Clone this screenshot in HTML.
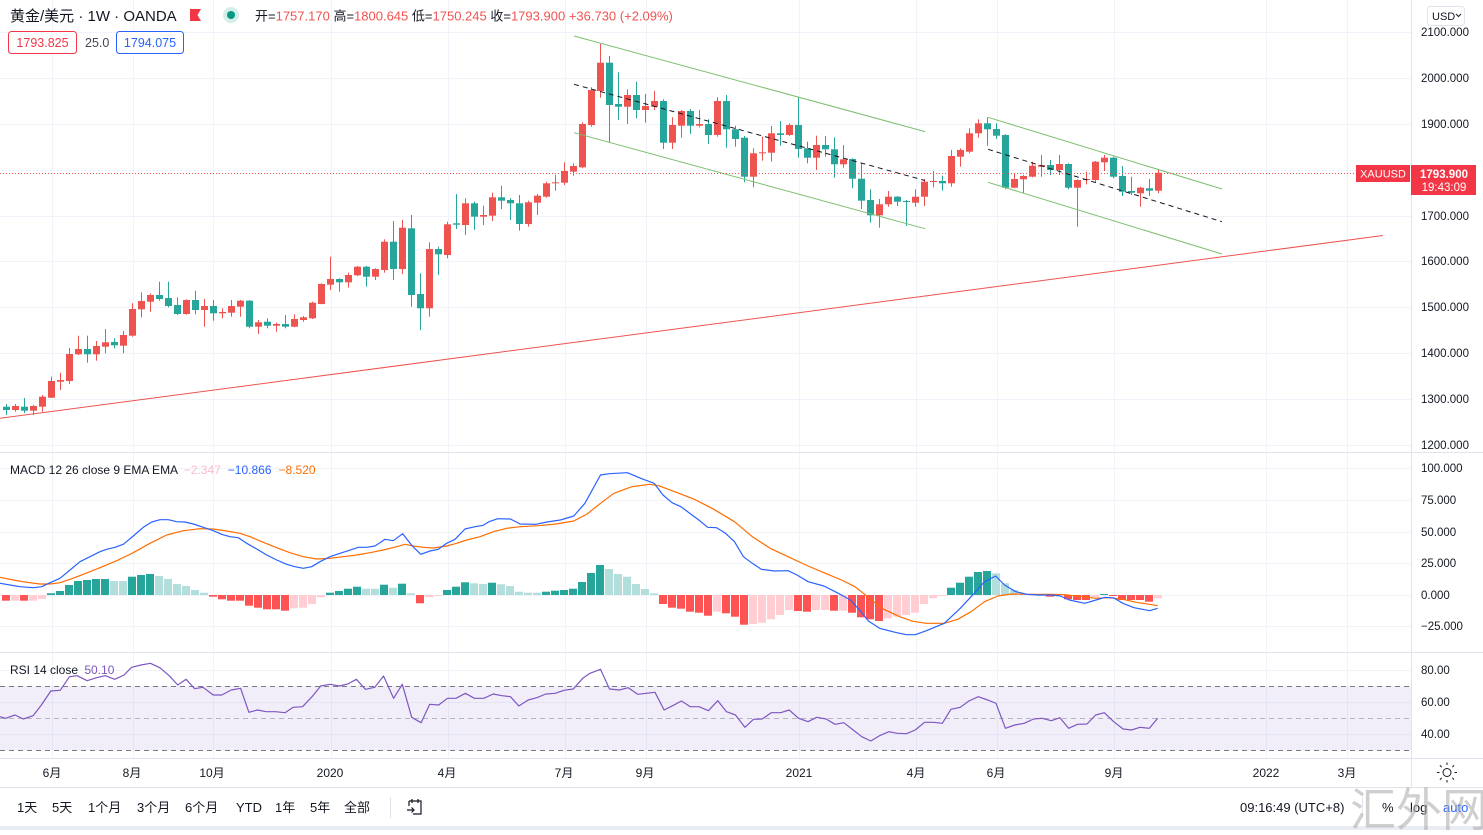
<!DOCTYPE html>
<html><head><meta charset="utf-8">
<style>
html,body{margin:0;padding:0;background:#fff;}
body{width:1483px;height:830px;overflow:hidden;}
svg text{font-family:"Liberation Sans","Noto Sans CJK SC",sans-serif;}
</style></head><body>
<svg id="c" width="1483" height="830" xmlns="http://www.w3.org/2000/svg">
<rect x="0" y="0" width="1483" height="830" fill="#ffffff"/>
<g id="grid" stroke="#f0f3fa" stroke-width="1"></g>
<rect x="0" y="686" width="1411" height="64" fill="#7e57c2" fill-opacity="0.1"/>
<g id="rsilines" fill="none" stroke-width="1"></g>
<g id="hist"></g>
<g id="lines"></g>
<g id="candles"></g>
<g id="draw" fill="none"></g>
<!-- separators -->
<g stroke="#e0e3eb" stroke-width="1">
<line x1="0" y1="452.5" x2="1483" y2="452.5"/>
<line x1="0" y1="652.5" x2="1483" y2="652.5"/>
<line x1="0" y1="758.5" x2="1483" y2="758.5"/>
<line x1="0" y1="787.5" x2="1483" y2="787.5"/>
<line x1="1411.5" y1="0" x2="1411.5" y2="787"/>
<line x1="390.5" y1="797" x2="390.5" y2="818"/>
<line x1="1362.5" y1="797" x2="1362.5" y2="818"/>
</g>
<rect x="0" y="826" width="1483" height="4" fill="#e9ecf2"/>

<!-- header legend -->
<text x="10" y="21" font-size="15" fill="#131722">黄金/美元 · 1W · OANDA</text>
<path d="M190 9 H201 L197.5 15 L201 21 H190 Z" fill="#f23645"/>
<circle cx="231" cy="15" r="8" fill="#d4efeb"/>
<circle cx="231" cy="15" r="4" fill="#089981"/>
<text x="255" y="20.5" font-size="13" fill="#131722">开=<tspan fill="#ef5350">1757.170</tspan> 高=<tspan fill="#ef5350">1800.645</tspan> 低=<tspan fill="#ef5350">1750.245</tspan> 收=<tspan fill="#ef5350">1793.900</tspan> <tspan fill="#ef5350">+36.730 (+2.09%)</tspan></text>
<rect x="8.5" y="31.5" width="68" height="22" rx="3" fill="#fff" stroke="#f23645"/>
<text x="42.5" y="47" font-size="12.5" fill="#f23645" text-anchor="middle">1793.825</text>
<text x="85" y="47" font-size="12.5" fill="#434651">25.0</text>
<rect x="116.5" y="31.5" width="67" height="22" rx="3" fill="#fff" stroke="#2962ff"/>
<text x="150" y="47" font-size="12.5" fill="#2962ff" text-anchor="middle">1794.075</text>

<!-- MACD legend -->
<text x="10" y="474" font-size="12" fill="#131722">MACD 12 26 close 9 EMA EMA <tspan dx="3" fill="#f8bbd0">−2.347</tspan><tspan dx="7" fill="#2962ff">−10.866</tspan><tspan dx="7" fill="#ff6d00">−8.520</tspan></text>
<!-- RSI legend -->
<text x="10" y="674" font-size="12" fill="#131722">RSI 14 close <tspan dx="3" fill="#7e57c2">50.10</tspan></text>

<!-- right axis labels -->
<g font-size="11.5" fill="#131722">
<text x="1421" y="36">2100.000</text>
<text x="1421" y="82">2000.000</text>
<text x="1421" y="128">1900.000</text>
<text x="1421" y="220">1700.000</text>
<text x="1421" y="265">1600.000</text>
<text x="1421" y="311">1500.000</text>
<text x="1421" y="357">1400.000</text>
<text x="1421" y="403">1300.000</text>
<text x="1421" y="449">1200.000</text>
<text x="1421" y="472">100.000</text>
<text x="1421" y="504">75.000</text>
<text x="1421" y="536">50.000</text>
<text x="1421" y="567">25.000</text>
<text x="1421" y="599">0.000</text>
<text x="1421" y="630">−25.000</text>
<text x="1421" y="674">80.00</text>
<text x="1421" y="706">60.00</text>
<text x="1421" y="738">40.00</text>
</g>
<rect x="1427.5" y="6.5" width="37" height="19" rx="3" fill="#fff" stroke="#e0e3eb"/>
<text x="1432" y="20" font-size="11" fill="#131722">USD</text>
<path d="M1456 14 L1458.5 16.5 L1461 14" stroke="#131722" fill="none" stroke-width="1"/>

<!-- price labels -->
<line x1="0" y1="173.5" x2="1356" y2="173.5" stroke="#ef5350" stroke-width="1" stroke-dasharray="1,2"/>
<rect x="1356" y="165" width="54" height="17" fill="#f23645"/>
<text x="1383" y="177.5" font-size="11" fill="#fff" text-anchor="middle">XAUUSD</text>
<rect x="1411" y="165" width="65" height="30" fill="#f23645"/>
<text x="1444" y="178" font-size="11.5" font-weight="bold" fill="#fff" text-anchor="middle">1793.900</text>
<text x="1444" y="191" font-size="11.5" fill="#fff" text-anchor="middle">19:43:09</text>

<!-- time axis -->
<g font-size="12" fill="#131722" text-anchor="middle">
<text x="52" y="777">6月</text>
<text x="132" y="777">8月</text>
<text x="212" y="777">10月</text>
<text x="330" y="777">2020</text>
<text x="447" y="777">4月</text>
<text x="564" y="777">7月</text>
<text x="645" y="777">9月</text>
<text x="799" y="777">2021</text>
<text x="916" y="777">4月</text>
<text x="996" y="777">6月</text>
<text x="1114" y="777">9月</text>
<text x="1266" y="777">2022</text>
<text x="1347" y="777">3月</text>
</g>
<g stroke="#131722" stroke-width="1" fill="none">
<circle cx="1447" cy="772.5" r="4"/>
<path d="M1447 765v-2.5M1447 780v2.5M1439.5 772.5h-2.5M1454.5 772.5h2.5M1441.7 767.2l-1.8-1.8M1452.3 777.8l1.8 1.8M1441.7 777.8l-1.8 1.8M1452.3 767.2l1.8-1.8"/>
</g>

<!-- bottom toolbar -->
<g font-size="13" fill="#131722">
<text x="17" y="812">1天</text>
<text x="52" y="812">5天</text>
<text x="88" y="812">1个月</text>
<text x="137" y="812">3个月</text>
<text x="185" y="812">6个月</text>
<text x="236" y="812">YTD</text>
<text x="275" y="812">1年</text>
<text x="310" y="812">5年</text>
<text x="344" y="812">全部</text>
<text x="1240" y="812">09:16:49 (UTC+8)</text>
<text x="1382" y="812">%</text>
<text x="1410" y="812">log</text>
<text x="1443" y="812" fill="#2962ff">auto</text>
</g>
<g stroke="#131722" stroke-width="1.2" fill="none">
<path d="M409 801 H421 V814 H413 M409 801 V806 M412 799 V803 M418 799 V803 M407 810 H414 M411.5 807.5 L414 810 L411.5 812.5"/>
</g>
<text x="1350" y="826" font-size="46" fill="#a8a8a8" fill-opacity="0.55">汇外网</text>
</svg>
<script>
(function(){
var S='http://www.w3.org/2000/svg';
function el(tag,a,p){var e=document.createElementNS(S,tag);for(var k in a)e.setAttribute(k,a[k]);p.appendChild(e);return e;}
var G=document.getElementById('grid');
var vx=[52,133,213,331,448,565,646,799,916,997,1114,1266,1347];
vx.forEach(function(x){el('line',{x1:x+.5,y1:0,x2:x+.5,y2:758},G);});
[32,78,124,170,216,261,307,353,399,445,468,500,532,563,595,626,670,702,734].forEach(function(y){el('line',{x1:0,y1:y+.5,x2:1411,y2:y+.5},G);});
var RL=document.getElementById('rsilines');
el('line',{x1:0,y1:686.5,x2:1411,y2:686.5,stroke:'#787b86','stroke-dasharray':'5,4'},RL);
el('line',{x1:0,y1:718.5,x2:1411,y2:718.5,stroke:'#787b86','stroke-opacity':'0.5','stroke-dasharray':'5,4'},RL);
el('line',{x1:0,y1:750.5,x2:1411,y2:750.5,stroke:'#787b86','stroke-dasharray':'5,4'},RL);

var cd="g 406.7 410 404 415|r 406 410 404 411.7|g 406.7 410.7 398 413|r 406 410.7 405 415|r 396.7 406.7 395 411.7|r 381 397.7 376.7 398|r 380 381.7 372.7 390|r 354 381 348 384|r 349 354.3 335.7 355|g 349 354.3 335.7 362.7|r 346 354.3 341 360.7|r 342.3 346.7 329 353.3|g 342 345.3 338.3 348.3|r 335 345.7 331 353.3|r 309 335.7 303.3 336.7|r 301 309.3 292.3 317.3|r 295 301.7 293.3 311.7|g 295 299 281.7 300.7|g 298 306 281.7 307.3|g 305 314 297.3 315|r 300 314 299.3 314.7|g 300 310 290.7 314.3|r 306 310 299 326.7|g 306 313.3 300 320.7|r 312 313.3 308.3 318.3|r 306 312.7 300 316.7|r 300.7 306.7 300 316.7|g 300.7 326.7 300 328.3|r 322.3 326.7 320 334|g 321.7 325.7 318.3 328.3|r 324 325.7 322.7 331.7|g 324 326.7 315 328.3|r 319 326.7 314.3 327.3|r 317.3 320 316 321.7|r 302.7 318.3 301.7 319|r 284 304 283.3 304.3|r 279 284.7 256.7 290|g 279 282.3 278.3 291.7|r 275 282.3 272.7 287.7|r 266.7 275.3 266 276|g 266.7 276.7 266 286.7|r 269 276.7 268.3 280|r 241.7 270 239.3 272.7|g 241.7 269 221 280|r 227.7 269 220 274|g 228.3 295 215 306.7|g 294 308.3 273.3 330|r 249 308.3 242.3 316.7|g 249 254.3 246.7 275|r 224.3 255 221.7 258.3|g 223.3 224.7 194 229|r 203.3 225 198.3 235|g 203.3 216.7 201.7 230|r 215 216.7 205.7 225|r 197.3 215.7 192.7 221|g 197.3 200.7 185.7 209|g 200 203.3 198.3 220|g 203.3 224 195 230.7|r 202.3 224 200.7 226.7|r 195.7 202.7 194 215|r 183.3 196.7 181.7 197.7|r 182.3 183.3 175 190.7|r 171 182.7 162.3 185|r 166 171.7 163.3 175.7|r 124 167.3 122.3 168.3|r 90 125 87.3 126.7|r 62.7 91 44 97.7|g 62.7 105 56 142.7|g 104 106.7 72.3 120|r 95 106.7 89.3 124|g 95 110 81.7 118.3|r 106 110 94 122.7|r 101 106.7 91 110|g 101 142.7 99.3 149|r 125 142.7 117.3 149|r 111 125.7 110 137.7|g 111 125.7 109 134|r 124 125.7 110 127.3|g 124 135 119.3 144|r 101 135 97.3 136.7|g 101 129.3 95 147.7|g 129.3 139 125.7 146.7|g 137.7 176.7 136 182.3|r 153.3 176.7 148.3 187.3|r 152.3 153.3 136.7 160.7|r 133.3 152.7 126 161.7|g 133.3 135 121 145.7|r 125 135 123.3 136|g 125 149 97.3 157.7|g 148.3 157.7 141.7 163.3|r 145 157.7 135.7 170|g 145 149.3 136 156.7|g 149.3 164.3 137.3 177.7|r 159.3 164.3 145 167.7|g 159 178.7 158.3 188.3|g 178.7 200.7 163.3 209|g 200 215.3 189.3 222.7|r 204.3 215.3 199 227.7|r 196.7 204.3 191 206.7|g 196.7 201.7 196 206|g 201 201.7 200 226|r 196.7 202.7 189.3 206.7|r 181.7 196.7 179 206|r 181 181.7 171 187.3|g 181 183.3 175.7 190.7|r 156 183.3 150 186.7|r 150 156.7 148.3 166.7|r 133.3 151.7 128.3 153.3|r 123.3 133.3 119.3 137.7|g 123.3 129.3 117.3 145.7|g 129 135.7 123.3 139|g 135 187.7 134.3 189.3|r 179 187.7 173.3 188.3|r 176 179.3 175 193.3|r 165.7 176.7 161.7 177.3|r 165 166.7 155 176.7|g 165 170 160 175|r 164 170 155 175|g 164 187.7 163.3 189.3|r 180 187.7 179.3 226.7|r 179 180 171.7 184.3|r 161.7 180 161 182.7|r 157.7 162.3 155 171|g 157.7 176.7 156.7 178.3|g 176 191.7 166 196|g 191 192.7 176.7 195|r 187.7 193.3 186.7 206.7|g 188.3 190.7 179 196|r 172.7 190.7 170 193.3";
var C=document.getElementById('candles');
cd.split('|').forEach(function(s,i){
 var p=s.split(' ');var col=p[0]=='r'?'#ef5350':'#26a69a';
 var x=6+9*i;var bt=+p[1],bb=+p[2],wt=+p[3],wb=+p[4];
 el('rect',{x:x,y:wt,width:1,height:Math.max(1,wb-wt),fill:col},C);
 el('rect',{x:x-3,y:bt,width:7,height:Math.max(1,bb-bt),fill:col},C);
});

var hd="R 600.7|p 600.7|R 600.7|p 600.7|p 599|G 593.3|G 591|G 585|G 581|G 580|G 579|G 579|g 581|g 581|G 576.7|G 575|G 574|g 576|g 579|g 584|g 586|g 590|g 592.7|R 596.7|R 599.3|R 600.7|R 600.7|R 605.7|R 607.7|R 609.3|R 609.3|R 610.7|p 608.3|p 607.7|p 604|p 597.3|G 592.7|G 591|G 588.7|G 586.7|g 588.7|g 588.7|G 584.7|g 587.7|G 583.7|g 593.3|R 603.3|p 597.3|p 595.7|G 590|G 586.7|G 582.3|g 583.3|g 584|G 582.7|g 584.3|g 586|g 591.7|g 592.7|g 592.7|G 591.7|G 590.7|G 590|G 588.7|G 582|G 573|G 565|g 569|g 574|g 576.7|g 584|g 589|g 593.3|R 604|R 607.7|R 608.7|R 611.7|R 612.7|R 615.7|p 611.7|R 613.3|R 616.7|R 624.7|p 624|p 622.7|p 619.3|p 615|p 610|R 611|R 611.7|p 610|p 610|R 610.7|p 610.7|R 612.7|R 617.3|R 619.3|R 621|p 618.3|p 616.7|p 615|p 612.7|p 604|p 598.3|p 595.7|G 587.7|G 582.7|G 576.7|G 572|G 571|g 573.3|g 583.3|g 590|g 593.3|g 594.3|g 594.7|R 596.7|p 596|R 599.3|R 600|R 600|p 597.3|G 594|R 596|R 600|R 600|R 600|R 601.7|p 598.3";
var cols={G:'#26a69a',g:'#b2dfdb',R:'#ff5252',p:'#ffcdd2'};
var H=document.getElementById('hist');var z=595;
hd.split('|').forEach(function(s,i){
 var p=s.split(' ');var v=+p[1];var x=6+9*i;
 var y0=Math.min(v,z),h=Math.max(1,Math.abs(v-z));
 el('rect',{x:x-4,y:y0,width:8,height:h,fill:cols[p[0]]},H);
});

var L=document.getElementById('lines');
function pl(pts,col){el('polyline',{points:pts,fill:'none',stroke:col,'stroke-width':1.2,'stroke-linejoin':'round'},L);}
var blue="0,583.3 10,585 20,586.7 33.3,587.7 41.7,586.7 50,582.7 60,578.3 70,570 80,561.7 90,556.7 100,551.7 106.7,549.3 115,547.3 123.3,544.3 133.3,536 143.3,527.3 151.7,522 160,519.7 168.3,519.7 176.7,521.7 185,522 193.3,524 203.3,527.3 213.3,530.7 221.7,534.3 230,536.7 238.3,537.7 246.7,543.3 256.7,549 266.7,555 276.7,560 286.7,564.3 295,566.7 303.3,568.3 311.7,566.7 320,561.7 330,556.7 340,553.3 348.3,550.7 358.3,547.3 366.7,547.3 375,546 385,539.3 393.3,540.7 402.7,533.7 411.7,545.3 420.7,554.3 430,551 438.3,549.3 446.7,543.3 455,539.3 465,529 475,526.7 483.3,525.3 488.9,521.7 497.9,518.7 510.4,519 520.2,524 535.8,524.3 547,522 560.4,520 573.8,516 584.9,503.3 600.5,475 609.5,473.7 627.3,472.7 640.7,478.3 654.1,483.3 663,495 672,502.7 680.9,506.7 698.8,520 707.7,527.3 716.6,527.7 725.5,533.3 734.5,541.7 743.4,556.7 752.3,563.3 761.3,569.3 774.6,571 788,570.7 797,575 808.1,581.7 823.8,586 837.1,592.7 850.5,600 859.5,610 868.4,621 879.6,628.3 895.2,632.3 906.3,634.7 915.3,634.7 926.4,630.7 944.3,623.3 959.9,608.7 971.1,596.7 984.5,581.7 995.6,576 1004.6,585 1015.7,591.7 1026.9,594.3 1038,595 1051.4,595 1060.4,596 1069.3,600 1084.8,603.3 1096,600 1105,597.3 1113.9,598 1122.9,603.3 1134,607.7 1149.6,610.7 1157.7,608.3";
var orange="0,577.3 13.3,580 26.7,582.3 40,584 50,584 60,582.7 70,579.3 83.3,574.3 100,567.7 116.7,560.7 133.3,552.7 150,543.3 166.7,535 183.3,530.7 200,528.7 213.3,529 226.7,531 240,533.3 250,536.7 263.3,542.3 276.7,547.7 290,552.7 303.3,556.7 316.7,559 330,558.3 343.3,556.7 356.7,555 370,552.7 383.3,550 396.7,546.7 405,544.3 413.3,546 423.3,547.3 433.3,548 446.7,546 456.7,543.3 466.7,540 480,536.7 493.4,531.7 506.8,528.3 520.2,526.7 538,525.7 555.9,524 573.8,521 587.1,514 600.5,503.3 613.9,493.3 631.8,486.7 649.6,484.3 658.6,485.7 676.4,492.3 694.3,499.3 712.1,508.3 734.5,521.7 752.3,536.7 770.2,548.3 788,556.7 805.9,565 823.8,572.7 841.6,580 855,586.7 868.4,597.3 881.8,608.3 899.6,616.7 913,621.3 926.4,623.3 944.3,623.3 957.7,619.3 971.1,611.7 984.5,601.7 997.9,596 1011.3,594 1029.1,594.3 1051.4,594.3 1064.8,594.7 1082.7,596.7 1096,598.3 1109.5,597.7 1122.9,599.3 1136.3,602.3 1149.6,604.3 1157.7,605.7";
var rsi="0,716.7 5.6,718.3 15,715 23.3,719 33.1,715.7 41.4,705 50.8,691 60.2,690.3 69.5,676.7 77.1,675.7 87.2,680.7 96.6,677.7 105.3,675.7 114.7,679.3 124.1,675 131.6,667.3 141,665 150.4,663.3 159.8,667.7 169.2,675.7 177.8,685 186.1,679.3 194.7,688.7 203,687.3 213.2,695 221.8,695 231.2,690 240.6,688.3 248.9,712.3 257.5,710 266.2,711.7 275.6,711.7 285,712.7 293.2,707.3 302.6,706.7 312,696.7 320.7,686 330.1,684.3 339.5,686 347.7,684 356.4,679.3 365.4,689.3 374.8,687.3 383.5,676 393.6,698.3 402.3,684.3 411.7,717.3 421.1,722.7 429.7,704.3 438.7,705 447.4,698.3 456,698.3 465.4,693.3 474.4,698.3 483.8,698.3 493.2,694 501.9,695.7 510.5,696.7 518.8,706 528.2,700 536.8,697.7 545.9,694 555.3,693.3 563.9,690.3 573.3,689 582.7,678.3 590,673.3 600.5,669.3 609.5,689 619.3,690 628.3,687.7 637.7,694.3 646.4,693.3 655,692.3 664.1,710 672.7,705.7 681.4,701 690.4,706.7 699,706.7 708.4,710.7 717.8,700.7 726.5,711.7 735.5,715 744.9,727.3 753.5,719.3 762.2,719 771.2,712.7 780.6,712.7 789.2,710 798.6,718.3 808,721.7 816.7,717.3 826.1,719 835.1,724.3 843.8,722.7 853.2,730 861.8,736.7 870.8,741 879.5,735.7 888.9,731.7 897.5,733.3 906.5,733.7 915.2,730 924.6,722.3 933.2,722.3 942.3,723.3 950.9,709.3 960.3,707.3 968.9,701 978.3,696.7 987.7,700 996,703.3 1005.4,728.3 1014.8,725 1024.2,723.3 1033.6,719 1042.2,718.3 1051.3,720.7 1059.9,717.7 1068.6,728.3 1077.6,724.3 1087,724 1095.6,715 1104.3,712.7 1113.7,721.7 1123.1,729 1131.4,730 1140,727.3 1149.4,728.3 1157.7,718.3";
pl(orange,'#ff6d00');pl(blue,'#2962ff');pl(rsi,'#7e57c2');

var D=document.getElementById('draw');
function ln(x1,y1,x2,y2,col,dash){var a={x1:x1,y1:y1,x2:x2,y2:y2,stroke:col,'stroke-width':1};if(dash)a['stroke-dasharray']=dash;el('line',a,D);}
ln(0,418.3,1383,235.5,'#ef5350');
ln(574,36,925,131.6,'#7cbf6e');
ln(574,132.7,925,228.7,'#7cbf6e');
ln(574,84.3,925,180.5,'#131722','5,4');
ln(988,117.3,1222,189,'#7cbf6e');
ln(988,182.3,1222,254,'#7cbf6e');
ln(988,149.3,1222,221.7,'#131722','5,4');
})();
</script>
</body></html>
